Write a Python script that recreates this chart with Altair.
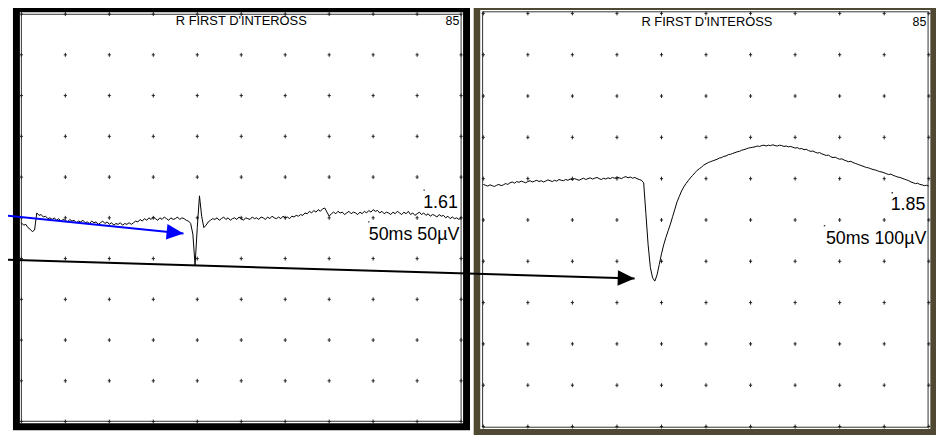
import altair as alt
import pandas as pd

# ---------------- data ----------------
DT = 2.5  # ms per sample

# left trace: 50 ms/div, 50 uV/div (values in uV)
left_uv = [
    -6, -9, -8, -12, -14, -17, -15, 6, 3, 4, 1, 2, -1, 0,
    -2, 0, -3, -1, -4, -2, -3, -5, -2, -4, -3, -6, -4, -5, -3, -6, -5, -7, -4, -6, -5, -8, -6,
    -4, -7, -5, -8, -6, -9, -7, -8, -6, -9, -7, -8, -6, -8,
    -6, -4, -5, -2, -4, -1, -3, 0, -2, 1, -1, -3, 0, -2, 1, -1, -3, 0, -2, -1, 1, -2, 0, -1,
    -3, -4, -7, -20, -58, -12, 27, 2, -12, -9, -5, -3, -1,
    -2, 0, -3, -1, 1, -2, 0, -3, -1, 0, -2, 1, -1, -3, 0, -1, -2, 1, -1, 0, -2, 1, 0, -2, 1,
    -1, 2, 0, -1, 1, -1, 2, 0, 1, -1, 2, 1, 3, 2, 4, 3, 6, 5, 8, 6,
    9, 7, 10, 8, 11, 12, 7, 2, 5, 7,
    5, 8, 6, 7, 4, 6, 8, 5, 7, 6, 4, 7, 5, 8, 6, 9, 7, 10, 8, 9, 6, 8, 5, 7, 6, 4, 7, 5, 8,
    6, 4, 7, 5, 8, 4, 6, 3, 5, 7, 4, 6, 3, 5, 2, 4, 3, 1, 4, 2, 3, 0, 2, -1, 1, -1, 0, -2, 0,
]

# right trace: 50 ms/div, 100 uV/div (values in uV)
right_uv = [
    86, 84, 82, 85, 83, 81, 84, 86, 83, 85, 88, 86, 90, 92, 89, 93, 91, 94, 92, 90, 93, 95,
    92, 94, 96, 93, 95, 92, 94, 97, 95, 93, 96, 94, 98, 96, 95, 98, 96, 99, 97, 100, 98, 96,
    99, 101, 98, 100, 102, 99, 101, 103, 100, 98, 101, 99, 102, 100, 103, 101, 104, 102, 100,
    103, 105, 102, 104, 101, 103, 100, 98, 96,
    90, 15, -60, -115, -140, -148, -133, -108, -82, -60, -42, -26, -10, 8, 26, 44, 57, 70,
    80, 88, 95, 102, 108, 114, 120, 124, 128, 133, 136, 139, 141, 143, 145, 147, 150, 151,
    154, 155, 158, 159, 161, 163, 165, 166, 169, 170, 172, 174, 175, 176, 177, 179, 178, 180,
    181, 179, 181, 180, 182, 180, 179, 181, 180, 178, 179, 177, 178, 176, 174, 175, 172, 173,
    170, 171, 168, 166, 167, 164, 162, 163, 160, 158, 156, 157, 153, 151, 152, 149, 147, 148,
    145, 143, 141, 142, 139, 137, 135, 133, 131, 129, 127, 126, 124, 122, 121, 119, 117, 116,
    114, 112, 110, 111, 108, 106, 104, 103, 101, 99, 97, 95, 92, 90, 88, 89, 86, 85, 83, 84, 82,
]

title_text = "R FIRST D'INTEROSS"
trace_no = "85"
left_amp, left_scale = "1.61", "50ms 50µV"
right_amp, right_scale = "1.85", "50ms 100µV"

# cursor marks (ms, uV)
left_marks_t, left_marks_v = [458, 395], [34, -5]
right_marks_t, right_marks_v = [459, 383], [66, -14]

# arrows (start, tip) in panel units
blue_arrow_t, blue_arrow_v = [-24.2, 184.3], [3.4, -19.1]       # left panel units
black_arrow_t, black_arrow_v = [-542.4, 169.8], [-96.0, -141.6]  # right panel units

# ---------------- scales ----------------
W, H = 936, 427
LX = alt.Scale(domain=[0, 500], range=[13.5, 457], nice=False, zero=False)
LY = alt.Scale(domain=[-250, 250], range=[415.3, 4.3], nice=False, zero=False)
RX = alt.Scale(domain=[0, 500], range=[479.4, 928.7], nice=False, zero=False)
RY = alt.Scale(domain=[-500, 500], range=[420.3, 3.6], nice=False, zero=False)


def enc(chart, xs, ys):
    return chart.encode(
        x=alt.X("t:Q", scale=xs, axis=None),
        y=alt.Y("v:Q", scale=ys, axis=None),
    )


one = pd.DataFrame({"k": [0]})


def box(x, x2, y, y2, **kw):
    return alt.Chart(one).mark_rect(**kw).encode(
        x=alt.value(x), x2=alt.value(x2), y=alt.value(y), y2=alt.value(y2)
    )


layers = []
# frames
OLIVE = "#4f4832"
layers.append(box(5, 466, -4, 424, color="black"))
layers.append(box(12, 459, 2.5, 417, color="white"))
layers.append(box(469.7, 945, -5.3, 440, color=OLIVE))
layers.append(box(476.3, 930.3, 0.3, 422.7, color="white"))
layers.append(box(13.5, 457, 4.5, 415, fillOpacity=0, stroke="#333333", strokeWidth=1))
layers.append(box(478.7, 928, 2, 421, fillOpacity=0, stroke="#333333", strokeWidth=1))

# grid crosses
PLUS = "M-0.8,0L0.8,0M0,-1L0,1"
gL = pd.DataFrame([(50 * i, -250 + 50 * j) for i in range(11) for j in range(11)], columns=["t", "v"])
gR = pd.DataFrame([(50 * i, -500 + 100 * j) for i in range(11) for j in range(11)], columns=["t", "v"])
for g, xs, ys in ((gL, LX, LY), (gR, RX, RY)):
    layers.append(enc(alt.Chart(g).mark_point(shape=PLUS, size=16, filled=False,
                                              color="#222222", strokeWidth=1, opacity=1), xs, ys))

# traces
dfL = pd.DataFrame({"t": [i * DT for i in range(len(left_uv))], "v": left_uv})
dfR = pd.DataFrame({"t": [i * DT for i in range(len(right_uv))], "v": right_uv})
layers.append(enc(alt.Chart(dfL).mark_line(color="black", strokeWidth=1), LX, LY))
layers.append(enc(alt.Chart(dfR).mark_line(color="black", strokeWidth=1), RX, RY))

# cursor marks
for mt, mv, xs, ys in ((left_marks_t, left_marks_v, LX, LY), (right_marks_t, right_marks_v, RX, RY)):
    layers.append(enc(alt.Chart(pd.DataFrame({"t": mt, "v": mv})).mark_square(
        size=2, color="#333333", opacity=1), xs, ys))

# texts
FONT = "Liberation Sans"


def txt(t, v, label, xs, ys, size, align):
    d = pd.DataFrame({"t": [t], "v": [v], "label": [label]})
    return enc(alt.Chart(d).mark_text(font=FONT, fontSize=size, align=align,
                                      baseline="alphabetic", color="black"), xs, ys).encode(text="label:N")


layers += [
    txt(250, 236, title_text, LX, LY, 13, "center"),
    txt(498, 236, trace_no, LX, LY, 12.5, "right"),
    txt(496.3, 11.6, left_amp, LX, LY, 18, "right"),
    txt(498, -27, left_scale, LX, LY, 18, "right"),
    txt(251, 470, title_text, RX, RY, 13, "center"),
    txt(497.3, 470, trace_no, RX, RY, 12.5, "right"),
    txt(496.2, 24, right_amp, RX, RY, 18, "right"),
    txt(497.3, -57.6, right_scale, RX, RY, 18, "right"),
]

# arrows
HEAD = "M0,0L-2,-0.92L-2,0.92Z"
for at, av, xs, ys, col, ang in ((blue_arrow_t, blue_arrow_v, LX, LY, "#0000ff", 5.7),
                                 (black_arrow_t, black_arrow_v, RX, RY, "black", 1.7)):
    d = pd.DataFrame({"t": at, "v": av})
    layers.append(enc(alt.Chart(d).mark_line(color=col, strokeWidth=2), xs, ys))
    tip = pd.DataFrame({"t": [at[1]], "v": [av[1]]})
    layers.append(enc(alt.Chart(tip).mark_point(shape=HEAD, size=289, filled=True, color=col,
                                                opacity=1, angle=ang, strokeWidth=0), xs, ys))

chart = (
    alt.layer(*layers)
    .resolve_scale(x="independent", y="independent")
    .properties(width=W, height=H, autosize=alt.AutoSizeParams(type="none"), padding=0,
                background="white")
    .configure_view(stroke=None)
)

chart.save("out.html", embed_options={"renderer": "svg", "actions": False})
